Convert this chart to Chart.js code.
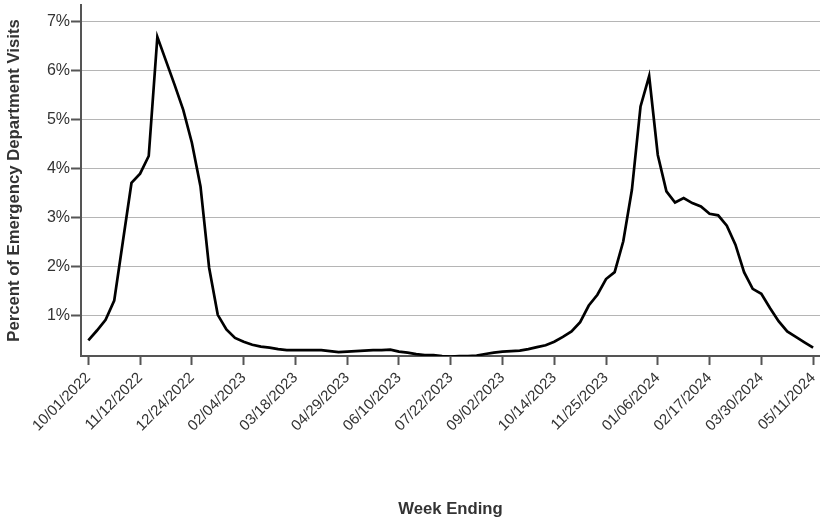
<!DOCTYPE html>
<html>
<head>
<meta charset="utf-8">
<script src="https://cdn.jsdelivr.net/npm/chart.js@4/dist/chart.umd.min.js"></script>
<style>
  html, body { margin: 0; padding: 0; background: #fff; }
  #wrap { width: 820px; height: 522px; position: relative; }
</style>
</head>
<body>
<div id="wrap"><canvas id="c" width="820" height="522"></canvas></div>
<script>
// Tick labels on the x axis (one every 6 weeks)
const tickLabels = ["10/01/2022","11/12/2022","12/24/2022","02/04/2023","03/18/2023","04/29/2023",
  "06/10/2023","07/22/2023","09/02/2023","10/14/2023","11/25/2023","01/06/2024","02/17/2024",
  "03/30/2024","05/11/2024"];
const weeksPerTick = 6;
// Weekly percent of emergency department visits (week index 0 = 10/01/2022)
const percentVisits = [
  0.49, 0.69, 0.91, 1.30, 2.50, 3.70, 3.89, 4.25, 6.68, 6.19,
  5.70, 5.19, 4.52, 3.63, 1.97, 1.01, 0.71, 0.54, 0.46, 0.40,
  0.36, 0.34, 0.31, 0.29, 0.29, 0.29, 0.29, 0.29, 0.27, 0.25,
  0.26, 0.27, 0.28, 0.29, 0.29, 0.30, 0.26, 0.24, 0.21, 0.19,
  0.19, 0.17, 0.16, 0.17, 0.17, 0.18, 0.21, 0.24, 0.26, 0.27,
  0.28, 0.31, 0.35, 0.39, 0.46, 0.56, 0.67, 0.86, 1.20, 1.42,
  1.74, 1.88, 2.51, 3.56, 5.26, 5.88, 4.27, 3.53, 3.30, 3.39,
  3.29, 3.22, 3.07, 3.04, 2.83, 2.44, 1.88, 1.54, 1.44, 1.15,
  0.88, 0.67, 0.56, 0.45, 0.34
];
const yTicks = [1, 2, 3, 4, 5, 6, 7];

const points = percentVisits.map((v, i) => ({x: i, y: v}));
const textColor = '#333333';
const axisColor = '#555555';
const fam = 'Liberation Sans, Arial, sans-serif';

new Chart(document.getElementById('c'), {
  type: 'line',
  data: {
    datasets: [{
      data: points,
      borderColor: '#000000',
      borderWidth: 2.7,
      pointRadius: 0,
      tension: 0,
      fill: false
    }]
  },
  options: {
    responsive: false,
    animation: false,
    layout: { padding: { top: 5, right: 0, bottom: 0, left: 0 } },
    plugins: { legend: { display: false }, tooltip: { enabled: false } },
    scales: {
      x: {
        type: 'linear',
        min: -0.85,
        max: 84.8,
        afterBuildTicks: (s) => { s.ticks = tickLabels.map((_, k) => ({ value: k * weeksPerTick })); },
        afterFit: (s) => { s.height = 166; s.paddingLeft = 0; s.paddingRight = 0; },
        border: { display: true, color: axisColor, width: 2 },
        grid: { drawOnChartArea: false, drawTicks: true, tickLength: 9, tickColor: axisColor, tickWidth: 2 },
        ticks: {
          autoSkip: false,
          minRotation: 45,
          maxRotation: 45,
          padding: 4,
          color: textColor,
          font: { family: fam, size: 15 },
          callback: (v, idx) => tickLabels[idx]
        },
        title: {
          display: true,
          text: 'Week Ending',
          color: textColor,
          font: { family: fam, size: 16.7, weight: 'bold' },
          padding: { top: 0, bottom: 2.9 }
        }
      },
      y: {
        type: 'linear',
        min: 0.17,
        max: 7.33,
        afterBuildTicks: (s) => { s.ticks = yTicks.map(v => ({ value: v })); },
        afterFit: (s) => { s.width = 81; s.paddingTop = 0; s.paddingBottom = 0; },
        border: { display: true, color: axisColor, width: 2 },
        grid: { color: '#b5b5b5', lineWidth: 1, drawTicks: true, tickLength: 10, tickColor: axisColor, tickWidth: 2 },
        ticks: {
          padding: 1,
          color: textColor,
          font: { family: fam, size: 16 },
          callback: (v) => v + '%'
        },
        title: {
          display: true,
          text: 'Percent of Emergency Department Visits',
          color: textColor,
          font: { family: fam, size: 16.7, weight: 'bold' },
          padding: { top: 4.4, bottom: 0 }
        }
      }
    }
  }
});
</script>
</body>
</html>
